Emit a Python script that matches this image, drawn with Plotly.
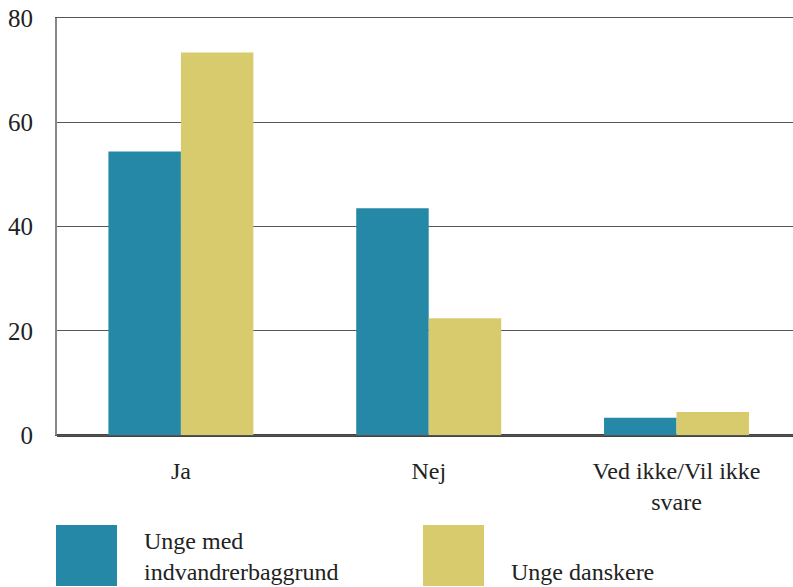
import plotly.graph_objects as go

categories = ["Ja", "Nej", "Ved ikke/Vil ikke<br>svare"]
immigrant_youth = [54.4, 43.5, 3.3]
danish_youth = [73.4, 22.4, 4.4]
series_names = ["Unge med<br>indvandrerbaggrund", "Unge danskere"]
y_ticks = [0, 20, 40, 60, 80]

BLUE = "#2688a7"
YELLOW = "#d8cb6e"
FONT = "Liberation Serif"

W, H = 793, 587
ML, MR, MT, MB = 57, 0, 18, 152
PW, PH = W - ML - MR, H - MT - MB


def px(x):
    return (x - ML) / PW


def py(y):
    return (H - MB - y) / PH


fig = go.Figure()
fig.add_trace(go.Bar(x=categories, y=immigrant_youth, name=series_names[0],
                     marker=dict(color=BLUE, line_width=0)))
fig.add_trace(go.Bar(x=categories, y=danish_youth, name=series_names[1],
                     marker=dict(color=YELLOW, line_width=0)))

# custom legend with big squares
shapes = []
annotations = []
for (x0, color, text, ty) in [(56, BLUE, series_names[0], 556), (423, YELLOW, series_names[1], 572)]:
    shapes.append(dict(type="rect", xref="paper", yref="paper",
                       x0=px(x0), x1=px(x0 + 61), y0=py(525), y1=py(586),
                       fillcolor=color, line_width=0, layer="above"))
    annotations.append(dict(text=text, xref="paper", yref="paper",
                            x=px(x0 + 86), y=py(ty), xanchor="left", yanchor="middle",
                            align="left", showarrow=False,
                            font=dict(family=FONT, size=24, color="#222")))

fig.update_layout(
    width=W, height=H,
    margin=dict(l=ML, r=MR, t=MT, b=MB, autoexpand=False),
    barmode="group", bargap=0.415, bargroupgap=0,
    plot_bgcolor="white", paper_bgcolor="white",
    showlegend=False,
    font=dict(family=FONT, size=24, color="#222"),
    shapes=shapes, annotations=annotations,
    xaxis=dict(range=[-0.5, 2.47], showgrid=False, automargin=False,
               showline=True, mirror=True, linecolor="#555", linewidth=1,
               ticks="", ticklabelstandoff=14, tickfont=dict(size=24)),
    yaxis=dict(range=[0, 80], tickvals=y_ticks, showgrid=True, gridcolor="#555",
               gridwidth=1, showline=True, linecolor="#888", linewidth=2, automargin=False,
               zeroline=True, zerolinecolor="#444", zerolinewidth=3,
               ticks="", ticklabelstandoff=17, tickfont=dict(size=25)),
)

# drop the default page margin so the figure sits at the window corner
fig.write_html("out.html", config={"displayModeBar": False},
               post_script="document.body.style.margin='0';")
